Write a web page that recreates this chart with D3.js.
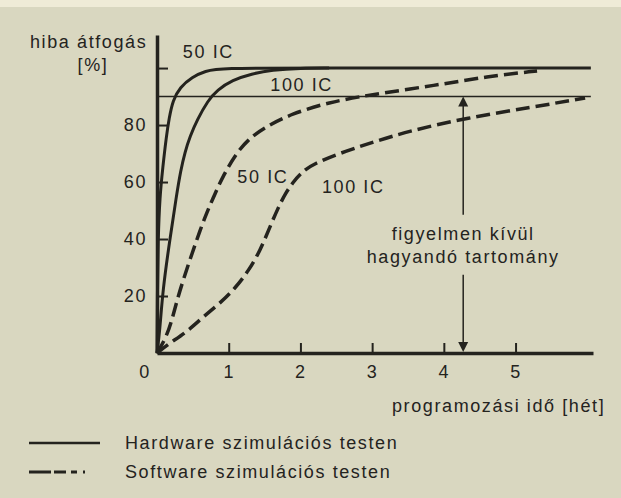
<!DOCTYPE html>
<html lang="hu">
<head>
  <meta charset="UTF-8" />
  <title>Hiba átfogás</title>
  <script src="https://d3js.org/d3.v7.min.js"></script>
  <style>
    body { margin: 0; background: #d9d7c0; }
    svg text { font-family: "Liberation Sans", Arial, sans-serif; fill: #24231e; font-size: 18px; letter-spacing: 1.6px; }
    .axis path, .axis line { stroke: #24231e; }
  </style>
</head>
<body>
  <div id="chart"></div>
  <script>
    // x: programozási idő [hét], y: hiba átfogás [%]
    const hw50 = [[0,0],[0.005,20],[0.015,40],[0.04,55],[0.08,65],[0.13,76],[0.17,82.5],[0.22,88.6],[0.32,93.3],[0.49,96.8],[0.67,99],[0.9,100],[2,100],[6.05,100]];
    const hw100 = [[0,0],[0.04,8],[0.08,22],[0.18,40],[0.27,55],[0.33,64],[0.39,70.5],[0.46,76],[0.56,81.8],[0.71,88.6],[0.84,92.3],[1.05,95.8],[1.32,98],[1.6,99.3],[2.0,100],[2.4,100]];
    const sw50 = [[0,0],[0.12,5],[0.21,11.6],[0.28,18.6],[0.37,26],[0.49,35],[0.6,43],[0.69,49],[0.81,56],[0.93,62.5],[1.09,69.5],[1.27,75],[1.51,79.3],[1.88,84],[2.4,88],[2.94,90.5],[3.9,94],[4.6,97],[5.3,99]];
    const sw100 = [[0,0],[0.18,3.5],[0.42,7.5],[0.64,12.6],[0.88,17.5],[1.1,23],[1.28,29],[1.44,36],[1.57,44],[1.69,51],[1.79,56],[1.9,60],[2.0,63],[2.18,66.5],[2.65,71],[3.01,74],[3.53,78],[4.32,82.5],[5.24,86.3],[5.97,89.5]];
    const xTicks = [1, 2, 3, 4, 5];
    const yTicks = [20, 40, 60, 80, 100];
    const threshold = 90;      // figyelmen kívül hagyandó határ
    const arrowAt = 4.27;      // nyíl helye [hét]
    const legendLabels = ["Hardware szimulációs testen", "Software szimulációs testen"];

    const width = 621, height = 498;
    const ink = "#24231e";

    const svg = d3.select("#chart").append("svg")
      .attr("width", width).attr("height", height);

    svg.append("rect").attr("width", width).attr("height", height).attr("fill", "#d9d7c0");
    svg.append("rect").attr("width", width).attr("height", 7).attr("fill", "#efebd7");

    const x = d3.scaleLinear().domain([0, 6.08]).range([157, 593]);
    const y = d3.scaleLinear().domain([0, 111.6]).range([353, 35]);

    // Axes
    const yAxis = svg.append("g").attr("class", "axis")
      .attr("transform", `translate(${x(0)},0)`)
      .call(d3.axisLeft(y).tickValues(yTicks).tickSize(-11).tickSizeOuter(0).tickPadding(10)
        .tickFormat(d => d === 100 ? "" : d));
    yAxis.select(".domain").attr("stroke-width", 3.5);
    yAxis.selectAll(".tick line").attr("stroke-width", 2);

    const xAxis = svg.append("g").attr("class", "axis")
      .attr("transform", `translate(0,${y(0)})`)
      .call(d3.axisBottom(x).tickValues(xTicks).tickFormat(d3.format("d"))
        .tickSize(-10).tickSizeOuter(0).tickPadding(12));
    xAxis.select(".domain").attr("stroke-width", 3.5);
    xAxis.selectAll(".tick line").attr("stroke-width", 2);
    svg.selectAll(".axis text").attr("font-size", 18).attr("font-family", null).attr("fill", ink);

    svg.append("text").attr("x", x(0) - 12).attr("y", y(0) + 25).attr("text-anchor", "middle").text("0");

    // 90% threshold line
    svg.append("line")
      .attr("x1", x(0)).attr("x2", x(6.05))
      .attr("y1", y(threshold)).attr("y2", y(threshold))
      .attr("stroke", ink).attr("stroke-width", 1.5);

    // Curves (B-spline smooths the hand-read points)
    const line = d3.line().x(d => x(d[0])).y(d => y(d[1])).curve(d3.curveBasis);
    [hw50, hw100].forEach(s => svg.append("path").datum(s).attr("d", line)
      .attr("fill", "none").attr("stroke", ink).attr("stroke-width", 3));
    [sw50, sw100].forEach(s => svg.append("path").datum(s).attr("d", line)
      .attr("fill", "none").attr("stroke", ink).attr("stroke-width", 3.5)
      .attr("stroke-dasharray", "14,6"));

    // Curve labels
    svg.append("text").attr("x", x(0.36)).attr("y", y(103.5)).text("50 IC");
    svg.append("text").attr("x", x(1.58)).attr("y", y(92)).text("100 IC");
    svg.append("text").attr("x", x(1.12)).attr("y", y(59.6)).text("50 IC");
    svg.append("text").attr("x", x(2.3)).attr("y", y(56)).text("100 IC");

    // Double arrow with text gap
    const ax = x(arrowAt);
    svg.append("line").attr("x1", ax).attr("x2", ax).attr("y1", y(threshold) + 8).attr("y2", y(48.5))
      .attr("stroke", ink).attr("stroke-width", 1.5);
    svg.append("line").attr("x1", ax).attr("x2", ax).attr("y1", y(27.5)).attr("y2", y(0) - 8)
      .attr("stroke", ink).attr("stroke-width", 1.5);
    svg.append("path").attr("d", `M${ax},${y(threshold)} l-5,10 l10,0 z`).attr("fill", ink);
    svg.append("path").attr("d", `M${ax},${y(0) - 1} l-5,-10 l10,0 z`).attr("fill", ink);
    svg.append("text").attr("x", ax).attr("y", 240).attr("text-anchor", "middle").text("figyelmen kívül");
    svg.append("text").attr("x", ax).attr("y", 263).attr("text-anchor", "middle").text("hagyandó tartomány");

    // Axis titles
    svg.append("text").attr("x", 30).attr("y", 48).text("hiba átfogás");
    svg.append("text").attr("x", 93).attr("y", 71).attr("text-anchor", "middle").text("[%]");
    svg.append("text").attr("x", 392).attr("y", 412).text("programozási idő [hét]");

    // Legend
    const legend = svg.append("g");
    legendLabels.forEach((lab, i) => {
      const ly = 443 + i * 29;
      legend.append("line").attr("x1", 29).attr("x2", 100).attr("y1", ly).attr("y2", ly)
        .attr("stroke", ink).attr("stroke-width", i ? 3 : 2.5)
        .attr("stroke-dasharray", i ? "22,3,12,5,6,6,2" : null);
      legend.append("text").attr("x", 125).attr("y", ly + 6).text(lab);
    });
  </script>
</body>
</html>
